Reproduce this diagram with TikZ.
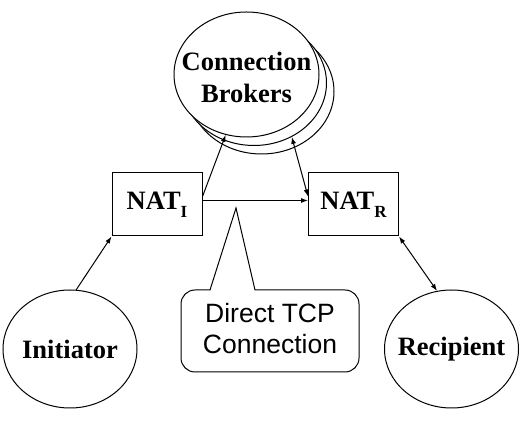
\documentclass[tikz,border=0pt]{standalone}
\usepackage{fontspec}
\setmainfont{Liberation Serif}
\setsansfont{Liberation Sans}
\usetikzlibrary{shapes.geometric, arrows.meta}

\newcommand{\natsub}[1]{\raisebox{-8pt}{\fontsize{17}{17}\selectfont #1}}

\begin{document}
\begin{tikzpicture} [x = 1pt, y = 1pt, line width = 1pt,
  oval/.style = {draw, ellipse, fill = white, inner sep = 0pt},
  box/.style = {draw, rectangle, minimum width = 90pt, minimum height = 63pt, inner sep = 0pt},
  lbl/.style = {font = \bfseries\fontsize{26.5}{32}\selectfont, align = center, inner sep = 0pt},
  fwd/.style = {-{Latex[length = 7pt, width = 5pt]}},
  bidir/.style = {{Latex[length = 7pt, width = 5pt]}-{Latex[length = 7pt, width = 5pt]}}]
\fill[white] (0,0) rectangle (529,422);
\useasboundingbox (0,0) rectangle (529,422);

% broker pool, back to front
\node[oval, minimum width = 145pt, minimum height = 125pt] (b3) at (261.5,330.5) {};
\node[oval, minimum width = 145pt, minimum height = 125pt] (b2) at (254,339) {};
\node[oval, minimum width = 145pt, minimum height = 125pt] (b1) at (246.5,347.5) {};
\node[lbl] (bt) at (246.5,345) {Connection\\Brokers};

\node[box] (nI) at (157,217.5) {};
\node[lbl] at (nI) {NAT\natsub{I}};
\node[box] (nR) at (353.5,217.5) {};
\node[lbl] at (nR) {NAT\natsub{R}};

\node[oval, minimum width = 134pt, minimum height = 118pt] (init) at (70,73) {};
\node[lbl] at (init) {Initiator};
\node[oval, minimum width = 134pt, minimum height = 118pt] (rec) at (451.5,73) {};
\node[lbl] at (rec) {Recipient};

% speech bubble
\node[font = \sffamily\fontsize{26.5}{31}\selectfont, align = center, inner sep = 0pt] (tcp) at (270,93) {Direct TCP\\Connection};
\draw (236,214) -- (255,132) -- (345,132) arc[start angle = 90, end angle = 0, radius = 14]
  -- (359,64) arc[start angle = 0, end angle = -90, radius = 14]
  -- (195,50) arc[start angle = 270, end angle = 180, radius = 14]
  -- (181,118) arc[start angle = 180, end angle = 90, radius = 14]
  -- (210,132) -- cycle;

\draw[fwd] ([yshift = 4pt]nI.east) -- ([yshift = 4pt]nR.west);
\draw[fwd] ([yshift = 8pt]nI.east) -- (b1.-109);
\draw[bidir] (b2.-55) -- ([yshift = 8pt]nR.west);
\draw[fwd] (init.84) -- (nI.south west);
\draw[bidir] (nR.south east) -- (rec.104);
\end{tikzpicture}
\end{document}
